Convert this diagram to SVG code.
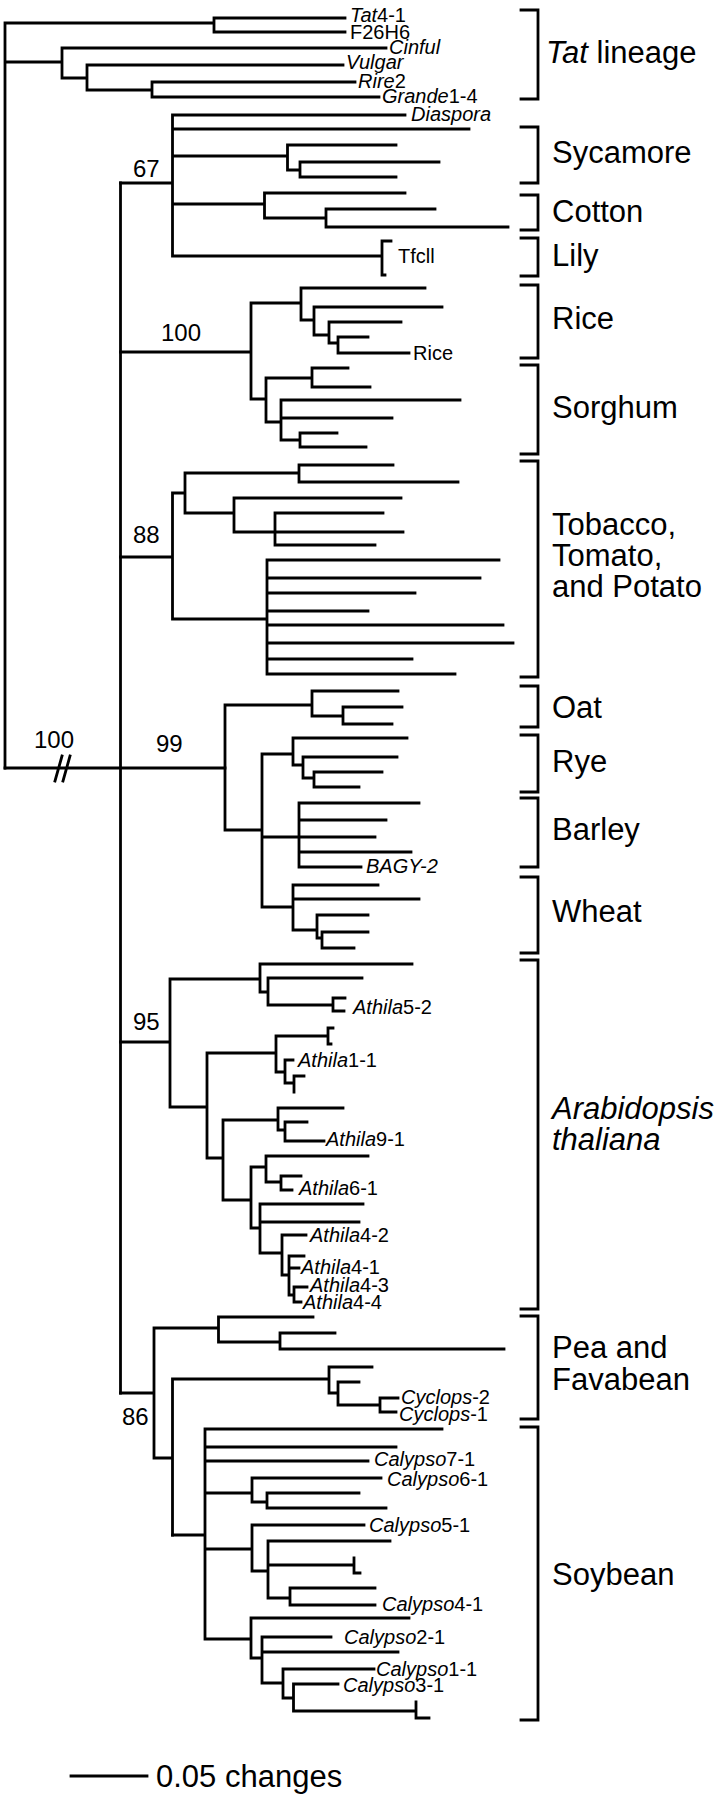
<svg xmlns="http://www.w3.org/2000/svg" width="721" height="1800" viewBox="0 0 721 1800">
<style>
.t{fill:none;stroke:#000;stroke-width:2.8;stroke-linecap:square;stroke-linejoin:miter}
text{font-family:"Liberation Sans",Arial,Helvetica,sans-serif;fill:#000}
.lf{font-size:20px}
.gr{font-size:31px}
.bs{font-size:24px}
.i{font-style:italic}
</style>
<rect width="721" height="1800" fill="#fff"/>
<g id="connectors" class="t">
<path d="M5 23V768M5 23H214M214 18V32M214 18H345M214 32H345M5 62H62M62 48V78M62 48H386M62 78H87M87 65V90M87 65H343M87 90H152M152 82V97M152 82H355M152 97H379"/>
<path d="M5 768H225M55 781L62 756M63 781L70 756"/>
<path d="M120.5 183V1393"/>
<path d="M120.5 183H172.5M172.5 115V256M172.5 115H405M172.5 129H469M172.5 156H287.5M287.5 145V170M287.5 145H396M287.5 170H300M300 162V177M300 162H439M300 177H396M172.5 204H264.5M264.5 193V218M264.5 193H405M264.5 218H326M326 209V227M326 209H435M326 227H508M172.5 256H382M382 241V275M382 241H391M382 275H385"/>
<path d="M120.5 352H251M251 303V399M251 303H301M301 288V320M301 288H425M301 320H314M314 307V335M314 307H442M314 335H329M329 322V343M329 322H401M329 343H338M338 337V353M338 337H368M338 353H409M251 399H266M266 378V422M266 378H312M312 368V387M312 368H348M312 387H370M266 422H281M281 400V440M281 400H460M281 418H392M281 440H300M300 433V447M300 433H337M300 447H366"/>
<path d="M120.5 557H172.5M172.5 493V619M172.5 493H185M185 473V513M185 473H299M299 465V482M299 465H393M299 482H458M185 513H234M234 498V532M234 498H401M234 532H275M275 513V545M275 513H383M275 532H403M275 545H375M172.5 619H267M267 560V674M267 560H499M267 578H480M267 593H415M267 611H368M267 625H503M267 643H513M267 659H412M267 674H455"/>
<path d="M225 705V830M225 705H312M312 691V716M312 691H398M312 716H343M343 707V724M343 707H402M343 724H392M225 830H262M262 754V907M262 754H293M293 738V765M293 738H407M293 765H303M303 757V778M303 757H397M303 778H314M314 772V787M314 772H382M314 787H359M262 837H375M299 803V867M299 803H419M299 820H386M299 852H411M299 867H361M262 907H293M293 885V930M293 885H378M293 899H419M293 930H317M317 915V938M317 915H368M317 938H322M322 932V948M322 932H368M322 948H354"/>
<path d="M120.5 1042H170M170 979V1107M170 979H260M260 964V992M260 964H412M260 992H268M268 978V1005M268 978H362M268 1005H333M333 998V1011M333 998H345M333 1011H344M170 1107H207M207 1053V1158M207 1053H276M276 1036V1072M276 1036H328M328 1028V1044M328 1028H333M328 1044H331M276 1072H285M285 1060V1083M285 1060H293M285 1083H294M294 1076V1092M294 1076H304M207 1158H223M223 1120V1200M223 1120H278M278 1108V1130M278 1108H343M278 1130H285M285 1122V1141M285 1122H307M285 1141H324M223 1200H251M251 1167V1228M251 1167H266M266 1156V1182M266 1156H368M266 1182H281M281 1176V1190M281 1176H301M281 1190H292M251 1228H260M260 1204V1253M260 1204H363M260 1222H359M260 1253H282M282 1235V1275M282 1235H306M282 1275H289M289 1256V1295M289 1256H304M289 1268H299M289 1295H294M294 1287V1302M294 1287H307M294 1302H301"/>
<path d="M120.5 1393H154M154 1328V1458M154 1328H218.5M218.5 1317V1342M218.5 1317H313M218.5 1342H280M280 1333V1349M280 1333H335M280 1349H504M154 1458H172.5M172.5 1379V1535M172.5 1379H329M329 1367V1393M329 1367H372M329 1393H338M338 1382V1405M338 1382H359M338 1405H380M380 1398V1412M380 1398H398M380 1412H396"/>
<path d="M172.5 1535H205M205 1429V1639M205 1429H442M205 1447H396M205 1461H368M205 1493H252M252 1478V1502M252 1478H381M252 1502H267M267 1493V1508M267 1493H359M267 1508H386M205 1549H252M252 1525V1571M252 1525H364M252 1571H268M268 1541V1598M268 1541H390M268 1565H354M354 1558V1573H360M268 1598H290M290 1588V1605M290 1588H375M290 1605H375M205 1639H251M251 1618V1658M251 1618H409M251 1658H262M262 1637V1683M262 1637H331M262 1652H398M262 1683H283M283 1669V1698M283 1669H374M283 1698H293.5M293.5 1684V1711M293.5 1684H338M293.5 1711H416M416 1702V1718H429"/>
</g>
<g id="support-values" class="bs">
<text x="133" y="177">67</text>
<text x="161" y="341">100</text>
<text x="133" y="543">88</text>
<text x="34" y="748">100</text>
<text x="156" y="752">99</text>
<text x="133" y="1030">95</text>
<text x="122" y="1425">86</text>
</g>
<g id="leaf-labels" class="lf">
<text id="tat41" x="350" y="22"><tspan class="i">Tat</tspan>4-1</text>
<text id="f26h6" x="350" y="39">F26H6</text>
<text id="cinful" x="389" y="54" class="i">Cinful</text>
<text id="vulgar" x="346" y="69" class="i">Vulgar</text>
<text id="rire2" x="358" y="88"><tspan class="i">Rire</tspan>2</text>
<text id="grande" x="382" y="103"><tspan class="i">Grande</tspan>1-4</text>
<text id="diaspora" x="411" y="121" class="i">Diaspora</text>
<text id="tfcll" x="398" y="263">Tfcll</text>
<text id="rice-leaf" x="413" y="360">Rice</text>
<text id="bagy2" x="366" y="873" class="i">BAGY-2</text>
<text id="athila52" x="353" y="1014"><tspan class="i">Athila</tspan>5-2</text>
<text id="athila11" x="298" y="1067"><tspan class="i">Athila</tspan>1-1</text>
<text id="athila91" x="326" y="1146"><tspan class="i">Athila</tspan>9-1</text>
<text id="athila61" x="299" y="1195"><tspan class="i">Athila</tspan>6-1</text>
<text id="athila42" x="310" y="1242"><tspan class="i">Athila</tspan>4-2</text>
<text id="athila41" x="301" y="1274"><tspan class="i">Athila</tspan>4-1</text>
<text id="athila43" x="310" y="1292"><tspan class="i">Athila</tspan>4-3</text>
<text id="athila44" x="303" y="1309"><tspan class="i">Athila</tspan>4-4</text>
<text id="cyclops2" x="401" y="1404"><tspan class="i">Cyclops</tspan>-2</text>
<text id="cyclops1" x="399" y="1421"><tspan class="i">Cyclops</tspan>-1</text>
<text id="calypso71" x="374" y="1466"><tspan class="i">Calypso</tspan>7-1</text>
<text id="calypso61" x="387" y="1486"><tspan class="i">Calypso</tspan>6-1</text>
<text id="calypso51" x="369" y="1532"><tspan class="i">Calypso</tspan>5-1</text>
<text id="calypso41" x="382" y="1611"><tspan class="i">Calypso</tspan>4-1</text>
<text id="calypso21" x="344" y="1644"><tspan class="i">Calypso</tspan>2-1</text>
<text id="calypso11" x="376" y="1676"><tspan class="i">Calypso</tspan>1-1</text>
<text id="calypso31" x="343" y="1692"><tspan class="i">Calypso</tspan>3-1</text>
</g>
<g id="clade-tat"><path class="t" d="M521 10H538V99H521"/><text class="gr" x="546" y="63"><tspan class="i">Tat</tspan> lineage</text></g>
<g id="clade-sycamore"><path class="t" d="M521 127H538V183H521"/><text class="gr" x="552" y="163">Sycamore</text></g>
<g id="clade-cotton"><path class="t" d="M521 195H538V230H521"/><text class="gr" x="552" y="222">Cotton</text></g>
<g id="clade-lily"><path class="t" d="M521 238H538V276H521"/><text class="gr" x="552" y="266">Lily</text></g>
<g id="clade-rice"><path class="t" d="M521 285H538V358H521"/><text class="gr" x="552" y="329">Rice</text></g>
<g id="clade-sorghum"><path class="t" d="M521 365H538V454H521"/><text class="gr" x="552" y="418">Sorghum</text></g>
<g id="clade-solanaceae"><path class="t" d="M521 461H538V677H521"/><text class="gr" x="552" y="535">Tobacco,</text><text class="gr" x="552" y="566">Tomato,</text><text class="gr" x="552" y="597">and Potato</text></g>
<g id="clade-oat"><path class="t" d="M521 686H538V727H521"/><text class="gr" x="552" y="718">Oat</text></g>
<g id="clade-rye"><path class="t" d="M521 735H538V792H521"/><text class="gr" x="552" y="772">Rye</text></g>
<g id="clade-barley"><path class="t" d="M521 798H538V867H521"/><text class="gr" x="552" y="840">Barley</text></g>
<g id="clade-wheat"><path class="t" d="M521 877H538V953H521"/><text class="gr" x="552" y="922">Wheat</text></g>
<g id="clade-arabidopsis"><path class="t" d="M521 960H538V1309H521"/><text class="gr i" x="552" y="1119">Arabidopsis</text><text class="gr i" x="552" y="1150">thaliana</text></g>
<g id="clade-pea"><path class="t" d="M521 1316H538V1419H521"/><text class="gr" x="552" y="1358">Pea and</text><text class="gr" x="552" y="1390">Favabean</text></g>
<g id="clade-soybean"><path class="t" d="M521 1427H538V1720H521"/><text class="gr" x="552" y="1585">Soybean</text></g>
<g id="scale-bar"><path class="t" d="M71 1776H147"/><text class="gr" x="156" y="1787">0.05 changes</text></g>
</svg>
